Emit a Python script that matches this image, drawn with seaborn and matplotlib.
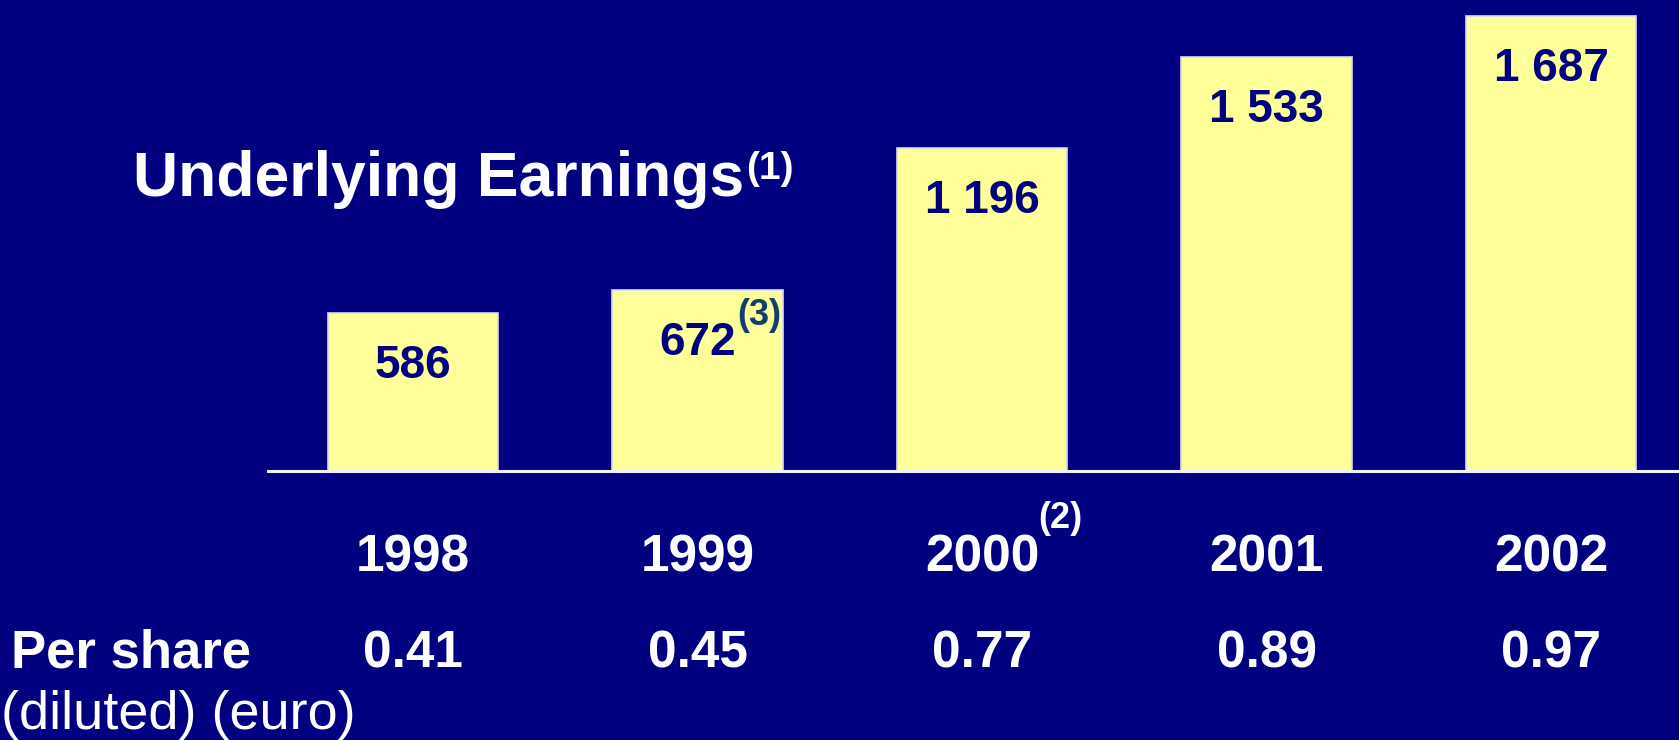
"""
Underlying earnings bar chart (1998-2002) with per share values
"""

# %% Imports
import matplotlib
matplotlib.use('Agg')
import matplotlib.pyplot as plt
import matplotlib.transforms as mtransforms
import seaborn as sns
import pandas as pd

# %% Data
years = ['1998', '1999', '2000', '2001', '2002']
earnings = [586, 672, 1196, 1533, 1687]
earnings_labels = ['586', '672', '1 196', '1 533', '1 687']
per_share = ['0.41', '0.45', '0.77', '0.89', '0.97']
year_notes = {'2000': '(2)'}
earnings_notes = {'1999': '(3)'}

df = pd.DataFrame({'year': years, 'earnings': earnings})

# %% Style
navy = '#000080'
bar_yellow = '#FFFF99'
note_teal = '#0F3F6E'
plt.rcParams['font.family'] = ['Liberation Sans', 'DejaVu Sans']

# %% Plot
W, H = 1679, 740
fig = plt.figure(figsize=(W / 100, H / 100), dpi=100, facecolor=navy)
ax = fig.add_axes([268 / W, 1 - 471 / H, 1 - 268 / W, 471 / H])
ax.set_facecolor(navy)

sns.barplot(data=df, x='year', y='earnings', color=bar_yellow, width=0.6,
            edgecolor='#D8D8F0', linewidth=1.2, saturation=1, ax=ax)
ax.set_xlim(-0.51, 4.45)
ax.set_ylim(0, 1745)
ax.set_xlabel('')
ax.set_ylabel('')
ax.set_xticks([])
ax.set_yticks([])
for side in ['top', 'right', 'left']:
    ax.spines[side].set_visible(False)
ax.spines['bottom'].set_color('#F0F0F8')
ax.spines['bottom'].set_linewidth(2.2)

# Value labels inside the bars
bar_texts = []
for i, (val, lab) in enumerate(zip(earnings, earnings_labels)):
    t = ax.annotate(lab, xy=(i, val), xytext=(0, -65 * 0.72), textcoords='offset points',
                    ha='center', va='baseline', fontsize=33, fontweight='bold', color=navy)
    bar_texts.append(t)

# Year labels and per share values under the axis
xfig = mtransforms.blended_transform_factory(ax.transData, fig.transFigure)
year_texts = []
for i, (yr, ps) in enumerate(zip(years, per_share)):
    t = ax.text(i, 1 - 572 / H, yr, transform=xfig, ha='center', va='baseline',
                fontsize=37, fontweight='bold', color='white')
    year_texts.append(t)
    ax.text(i, 1 - 667 / H, ps, transform=xfig, ha='center', va='baseline',
            fontsize=37, fontweight='bold', color='white')

title = fig.text(133 / W, 1 - 196 / H, 'Underlying Earnings', ha='left', va='baseline',
                 fontsize=45, fontweight='bold', color='white')
fig.text(11 / W, 1 - 667 / H, 'Per share', ha='left', va='baseline',
         fontsize=38, fontweight='bold', color='white')
fig.text(1 / W, 1 - 729 / H, '(diluted) (euro)', ha='left', va='baseline',
         fontsize=39, color='white')

# Footnote markers placed right after their text
fig.canvas.draw()
renderer = fig.canvas.get_renderer()
px = fig.transFigure.inverted()

bb = title.get_window_extent(renderer)
x, _ = px.transform((bb.x1 + 2, 0))
fig.text(x, 1 - 179 / H, '(1)', ha='left', va='baseline',
         fontsize=28, fontweight='bold', color='white')

for i, yr in enumerate(years):
    if yr in year_notes:
        bb = year_texts[i].get_window_extent(renderer)
        x, _ = px.transform((bb.x1 - 1, 0))
        fig.text(x, 1 - 528 / H, year_notes[yr], ha='left', va='baseline',
                 fontsize=26, fontweight='bold', color='white')
    if yr in earnings_notes:
        bb = bar_texts[i].get_window_extent(renderer)
        base_y = ax.transData.transform((i, earnings[i]))[1] - 65
        x, y = px.transform((bb.x1 + 1, base_y + 30))
        fig.text(x, y, earnings_notes[yr], ha='left', va='baseline',
                 fontsize=26, fontweight='bold', color=note_teal)

plt.savefig('out.png', dpi=100, facecolor=navy)
